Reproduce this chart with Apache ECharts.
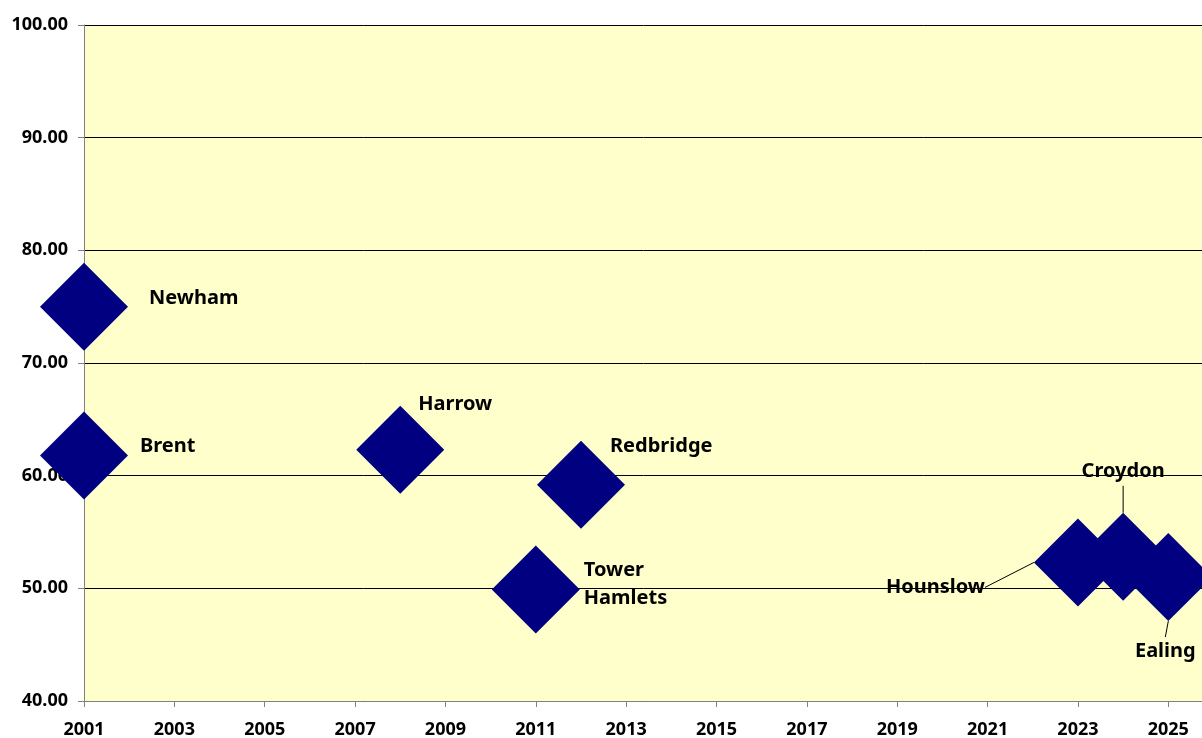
<!DOCTYPE html>
<html>
<head>
<meta charset="utf-8">
<script src="https://cdn.jsdelivr.net/npm/echarts@6/dist/echarts.min.js"></script>
<style>
  html, body { margin: 0; padding: 0; background: #ffffff; overflow: hidden; }
  #chart { width: 1202px; height: 738px; }
</style>
</head>
<body>
<div id="chart"></div>
<script>
// x axis categories (years)
const years = ['2001', '2002', '2003', '2004', '2005', '2006', '2007', '2008', '2009',
  '2010', '2011', '2012', '2013', '2014', '2015', '2016', '2017', '2018', '2019',
  '2020', '2021', '2022', '2023', '2024', '2025', '2026'];

// boroughs, their year and value
const boroughs = ['Newham', 'Brent', 'Harrow', 'Redbridge', 'Tower\nHamlets', 'Hounslow', 'Croydon', 'Ealing'];
const boroughYears = ['2001', '2001', '2008', '2012', '2011', '2023', '2024', '2025'];
const boroughValues = [75.0, 61.8, 62.3, 59.2, 49.9, 52.3, 52.8, 51.0];

// label placement relative to the marker centre
const labelPlace = [
  { dx: 65, dy: -8, align: 'left' },
  { dx: 56, dy: -9, align: 'left' },
  { dx: 18, dy: -45, align: 'left' },
  { dx: 29, dy: -38, align: 'left' },
  { dx: 48, dy: -5, align: 'left' },
  { dx: -93, dy: 25, align: 'right', line: true },
  { dx: 0, dy: -85, align: 'center', line: true },
  { dx: -3, dy: 74, align: 'center', line: true }
];

const chart = echarts.init(document.getElementById('chart'));

const seriesData = boroughs.map((name, i) => {
  const item = { name: name, value: [boroughYears[i], boroughValues[i]] };
  if (labelPlace[i].line) {
    item.labelLine = { show: true, lineStyle: { color: '#000', width: 1, opacity: 1 } };
  }
  return item;
});

const axisText = {
  color: '#000',
  fontFamily: 'Noto Sans',
  fontWeight: 'bold',
  fontSize: 18
};

const option = {
  animation: false,
  backgroundColor: '#ffffff',
  grid: {
    left: 84,
    top: 25,
    width: 1129.5,
    height: 676,
    outerBoundsMode: 'none',
    containLabel: false,
    show: true,
    backgroundColor: '#FFFFCC',
    borderWidth: 0
  },
  xAxis: {
    type: 'category',
    data: years,
    boundaryGap: false,
    axisLine: { lineStyle: { color: '#808080', width: 1 } },
    axisTick: { show: true, interval: 1, length: 6, lineStyle: { color: '#808080' } },
    axisLabel: Object.assign({ interval: 1, margin: 20 }, axisText),
    splitLine: { show: false }
  },
  yAxis: {
    type: 'value',
    min: 40,
    max: 100,
    interval: 10,
    axisLine: { show: true, lineStyle: { color: '#808080', width: 1 } },
    axisTick: { show: true, length: 6, lineStyle: { color: '#808080' } },
    axisLabel: Object.assign({
      margin: 16,
      formatter: v => v.toFixed(2)
    }, axisText),
    splitLine: { show: true, lineStyle: { color: '#000', width: 1 } }
  },
  series: [
    {
      type: 'scatter',
      symbol: 'diamond',
      symbolSize: 88,
      itemStyle: { color: '#000080', opacity: 1 },
      data: seriesData,
      label: {
        show: true,
        formatter: '{b}',
        color: '#000',
        fontFamily: 'Noto Sans',
        fontWeight: 'bold',
        fontSize: 20,
        lineHeight: 28
      },
      labelLayout: function (p) {
        const pl = labelPlace[p.dataIndex];
        return {
          x: p.rect.x + p.rect.width / 2 + pl.dx,
          y: p.rect.y + p.rect.height / 2 + pl.dy,
          align: pl.align,
          verticalAlign: 'middle'
        };
      },
      emphasis: { disabled: true }
    }
  ]
};

chart.setOption(option);
</script>
</body>
</html>
